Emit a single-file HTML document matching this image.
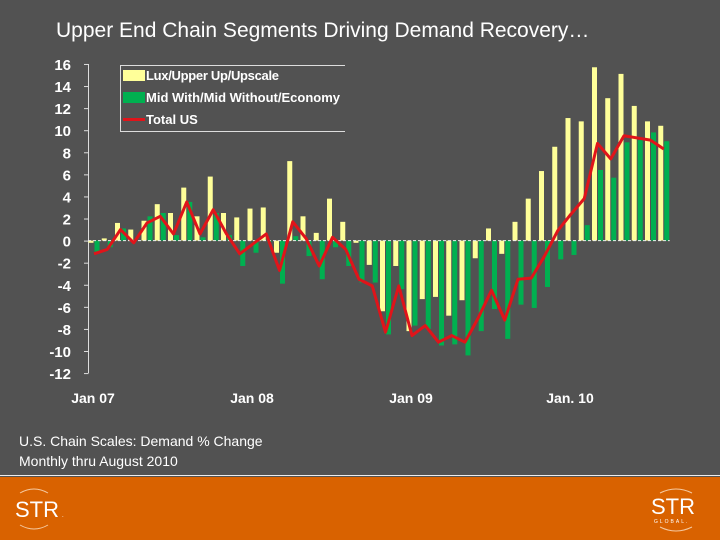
<!DOCTYPE html>
<html><head><meta charset="utf-8">
<style>
body{margin:0;width:720px;height:540px;overflow:hidden;background:#525252;font-family:"Liberation Sans",sans-serif}
#wrap{position:relative;width:720px;height:540px}
.t{position:absolute;color:#fff;white-space:nowrap}
</style></head><body>
<div id="wrap">
<div class="t" style="left:56px;top:19px;font-size:21px;">Upper End Chain Segments Driving Demand Recovery…</div>
<div class="t" style="left:19px;top:431px;font-size:14px;line-height:20px;">U.S. Chain Scales: Demand % Change<br>Monthly thru August 2010</div>
<div style="position:absolute;left:0;top:475px;width:720px;height:1px;background:#eee"></div>
<div style="position:absolute;left:0;top:477px;width:720px;height:63px;background:#d96200"></div>
<svg width="720" height="540" style="position:absolute;left:0;top:0" id="svg">
<g id="axes"></g><g id="bars"></g><g id="line"></g>
<g font-size="13" font-weight="bold" fill="#fff">
<path d="M345 65.5H120.5V131.5H345" stroke="#ddd" fill="none"/>
<rect x="123" y="70" width="22" height="11" fill="#ffff99"/>
<text x="146" y="80" textLength="133">Lux/Upper Up/Upscale</text>
<rect x="123" y="92" width="22" height="11" fill="#00b050"/>
<text x="146" y="102" textLength="194">Mid With/Mid Without/Economy</text>
<rect x="123" y="118" width="22" height="3" fill="#e0141a"/>
<text x="146" y="124">Total US</text>
</g>
<g fill="none" stroke="#f5c9a0">
<path d="M20 493 Q34 485 48 493" /><path d="M20 525 Q34 533 48 525"/>
<text x="15" y="517" font-size="22" fill="#fff" stroke="none">STR</text><text x="62" y="517" font-size="6" fill="#fff" stroke="none">.</text>
</g>
<g fill="none" stroke="#f5c9a0">
<path d="M660 493 Q676 485 692 493"/><path d="M660 527 Q676 535 692 527"/>
<text x="651" y="514" font-size="22" fill="#fff" stroke="none">STR</text>
<text x="654" y="523" font-size="5" letter-spacing="2" fill="#fff" stroke="none">GLOBAL.</text>
</g>
</svg>
</div>
<script>
const months=["Jan 07","Jan 08","Jan 09","Jan. 10"];
const tickValues=[16,14,12,10,8,6,4,2,0,-2,-4,-6,-8,-10,-12];
const upper=[-0.2,0.2,1.6,1.0,1.8,3.3,2.5,4.8,2.2,5.8,2.5,2.1,2.9,3.0,-1.1,7.2,2.2,0.7,3.8,1.7,-0.2,-2.2,-6.4,-2.3,-8.2,-5.3,-5.1,-6.8,-5.4,-1.6,1.1,-1.2,1.7,3.8,6.3,8.5,11.1,10.8,15.7,12.9,15.1,12.2,10.8,10.4];
const mid=[-1.0,-0.6,1.1,0.0,2.2,2.5,0.5,3.5,0.3,2.5,0.5,-2.3,-1.1,-0.1,-3.9,0.4,-1.4,-3.5,-0.6,-2.3,-3.8,-3.8,-8.5,-4.4,-7.7,-8.0,-9.5,-9.4,-10.4,-8.2,-6.2,-8.9,-5.8,-6.1,-4.2,-1.7,-1.3,1.4,6.4,5.7,8.9,9.1,9.8,9.0];
const total=[-1.2,-0.8,1.0,-0.2,1.6,2.2,0.6,3.5,0.6,2.8,0.6,-1.2,-0.3,0.6,-2.7,1.7,0.2,-2.3,0.3,-0.8,-3.5,-4.1,-8.3,-4.1,-8.6,-7.7,-9.2,-8.6,-9.2,-7.0,-4.5,-7.2,-3.5,-3.4,-1.4,0.9,2.4,3.8,8.8,7.4,9.5,9.3,9.1,8.3];
const NS="http://www.w3.org/2000/svg";
const y=v=>240.6-v*11.04;
const x=i=>94+i*13.25;
function mk(t,a,p){const e=document.createElementNS(NS,t);for(const k in a)e.setAttribute(k,a[k]);p.appendChild(e);return e;}
const ax=document.getElementById('axes'),bg=document.getElementById('bars'),lg=document.getElementById('line');
const yAxis=mk('line',{x1:88.5,x2:88.5,y1:y(16),y2:y(-12),stroke:'#ddd'},ax);


tickValues.forEach(v=>{
 const tk=mk('line',{x1:84,x2:88.5,y1:y(v)+.5,y2:y(v)+.5,stroke:'#ddd'},ax);
 
 
 const t=mk('text',{x:71,y:y(v)+6,'text-anchor':'end','font-size':15,'font-weight':'bold',fill:'#fff'},ax);
 t.textContent=v;
 
 
});
months.forEach((m,k)=>{
 const t=mk('text',{x:x(k*12)-1,y:403,'text-anchor':'middle','font-size':14,'font-weight':'bold',fill:'#fff'},ax);
 t.textContent=m;
 
 
});
upper.forEach((v,i)=>{
 const r=mk('rect',{x:x(i)-5.5,y:Math.min(y(v),y(0)),width:5,height:Math.abs(y(v)-y(0)),fill:'#ffff99'},bg);
 
 
});
mid.forEach((v,i)=>{
 const r=mk('rect',{x:x(i)+0.5,y:Math.min(y(v),y(0)),width:5,height:Math.abs(y(v)-y(0)),fill:'#00b050'},bg);
 
 
});
const zl=mk('line',{x1:88,x2:x(43)+6,y1:y(0),y2:y(0),stroke:'#eee','stroke-dasharray':'3,2','stroke-width':1},bg);


const pl=mk('polyline',{points:total.map((v,i)=>x(i)+','+y(v)).join(' '),fill:'none',stroke:'#e0141a','stroke-width':3,'stroke-linejoin':'round'},lg);


</script>
</body></html>
